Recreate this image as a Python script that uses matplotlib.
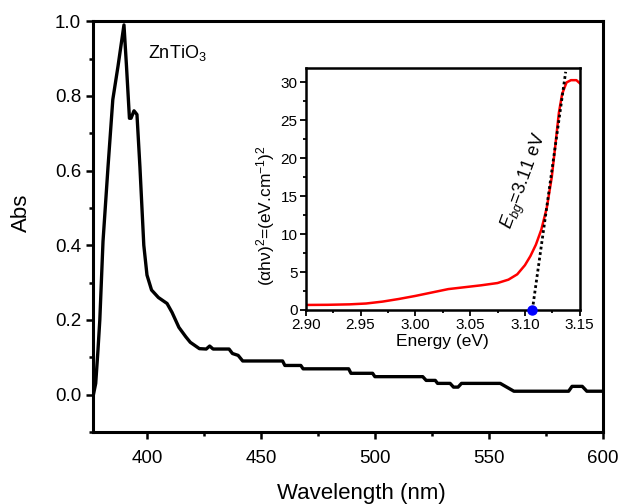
import matplotlib.pyplot as plt
from matplotlib.ticker import MultipleLocator

plt.rcParams['font.family'] = ['Liberation Sans', 'DejaVu Sans']
plt.rcParams['mathtext.fontset'] = 'custom'
plt.rcParams['mathtext.rm'] = 'Liberation Sans'
plt.rcParams['mathtext.it'] = 'Liberation Sans:italic'

# main absorbance spectrum
wavelength = [376.5, 377.5, 378.5, 379.3, 380.7, 382.9, 385, 387.3, 389.9, 391, 392.3, 393,
              394.3, 395.6, 396.9, 398.6, 400, 402, 405, 408.8, 411, 414, 417, 419, 423,
              426, 427.5, 429, 436, 437.5, 440, 442, 459.5, 460.5, 467.5, 468.5, 488.5,
              489.5, 499, 500, 521, 522.5, 526.5, 527.5, 533, 534.5, 536.5, 538, 555, 561,
              585, 586.5, 591, 593, 600]
absorb = [0.0, 0.03, 0.12, 0.2, 0.41, 0.61, 0.79, 0.88, 0.99, 0.88, 0.74, 0.74,
          0.76, 0.75, 0.61, 0.4, 0.32, 0.28, 0.26, 0.244, 0.22, 0.18, 0.155, 0.14, 0.123,
          0.122, 0.13, 0.122, 0.122, 0.11, 0.105, 0.09, 0.09, 0.078, 0.078, 0.069, 0.069,
          0.057, 0.057, 0.048, 0.048, 0.038, 0.038, 0.03, 0.03, 0.02, 0.02, 0.03, 0.03, 0.009,
          0.009, 0.022, 0.022, 0.009, 0.009]

# inset Tauc plot
energy = [2.90, 2.92, 2.94, 2.955, 2.97, 2.985, 3.0, 3.015, 3.03, 3.045, 3.06, 3.075,
          3.085, 3.093, 3.1, 3.105, 3.11, 3.115, 3.12, 3.1245, 3.128, 3.131, 3.134,
          3.138, 3.142, 3.147, 3.15]
tauc = [0.66, 0.68, 0.74, 0.85, 1.1, 1.45, 1.85, 2.3, 2.75, 3.0, 3.25, 3.55,
        4.0, 4.7, 5.9, 7.1, 8.6, 10.6, 13.5, 17.5, 22.0, 26.0, 28.5,
        30.0, 30.3, 30.3, 29.9]
fit_x = [3.1068, 3.1372]
fit_y = [0.0, 31.4]
eg = 3.1068

fig = plt.figure(figsize=(6.24, 5.04), dpi=100)
ax = fig.add_axes([0.149, 0.143, 0.817, 0.815])
ax.plot(wavelength, absorb, color='black', lw=2.4)
ax.set_xlim(376.3, 600)
ax.set_ylim(-0.1, 1.0)
ax.xaxis.set_major_locator(MultipleLocator(50))
ax.xaxis.set_minor_locator(MultipleLocator(25))
ax.yaxis.set_major_locator(MultipleLocator(0.2))
ax.yaxis.set_minor_locator(MultipleLocator(0.1))
ax.tick_params(which='both', direction='out', width=1.8, labelsize=13.5)
ax.tick_params(which='major', length=5)
ax.tick_params(which='minor', length=3)
ax.tick_params(axis='x', pad=8)
ax.set_yticks([0.0, 0.2, 0.4, 0.6, 0.8, 1.0])
ax.set_yticklabels(['0.0', '0.2', '0.4', '0.6', '0.8', '1.0'])
for s in ax.spines.values():
    s.set_linewidth(2.2)
ax.set_xlabel('Wavelength (nm)', fontsize=16)
ax.set_ylabel('Abs', fontsize=16)
ax.xaxis.set_label_coords(0.527, -0.124)
ax.yaxis.set_label_coords(-0.12, 0.533)
ax.text(400.4, 0.915, 'ZnTiO$_3$', fontsize=13, va='center')

ins = fig.add_axes([0.490, 0.385, 0.439, 0.480])
ins.plot(energy, tauc, color='red', lw=1.8)
ins.plot(fit_x, fit_y, color='black', lw=2, ls=(0, (1, 1)))
ins.plot([eg], [0], 'o', color='blue', ms=6.5, clip_on=False, zorder=5)
ins.set_xlim(2.90, 3.15)
ins.set_ylim(0, 31.9)
ins.xaxis.set_major_locator(MultipleLocator(0.05))
ins.xaxis.set_minor_locator(MultipleLocator(0.025))
ins.yaxis.set_major_locator(MultipleLocator(5))
ins.yaxis.set_minor_locator(MultipleLocator(2.5))
ins.set_xticks([2.90, 2.95, 3.00, 3.05, 3.10, 3.15])
ins.set_xticklabels(['2.90', '2.95', '3.00', '3.05', '3.10', '3.15'])
ins.tick_params(which='both', direction='out', width=1.3, labelsize=11, pad=2)
ins.tick_params(which='major', length=4)
ins.tick_params(which='minor', length=2.5)
for s in ins.spines.values():
    s.set_linewidth(1.8)
ins.set_xlabel('Energy (eV)', fontsize=12.5, labelpad=1)
ins.set_ylabel('(αhν)$^2$=(eV.cm$^{-1}$)$^2$', fontsize=12.5)
ins.yaxis.set_label_coords(-0.106, 0.39)
ins.text(3.1005, 16.9, '$E_{bg}$=$\\mathit{3.11}$ eV', fontsize=13, rotation=70,
         ha='center', va='center')

fig.savefig('out.png', dpi=100)
